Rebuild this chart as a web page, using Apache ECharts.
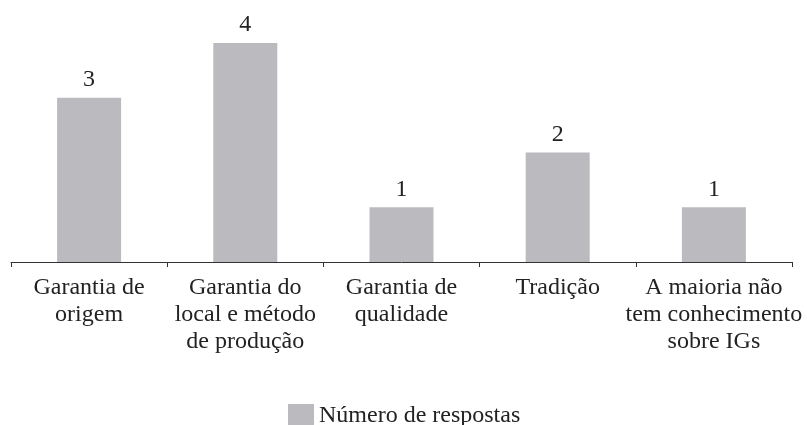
<!DOCTYPE html>
<html>
<head>
<meta charset="utf-8">
<script src="https://cdn.jsdelivr.net/npm/echarts@6/dist/echarts.min.js"></script>
<style>
  html, body { margin: 0; padding: 0; background: #fff; }
  #chart { width: 807px; height: 425px; }
</style>
</head>
<body>
<div id="chart"></div>
<script>
const categories = [
  'Garantia de\norigem',
  'Garantia do\nlocal e método\nde produção',
  'Garantia de\nqualidade',
  'Tradição',
  'A maioria não\ntem conhecimento\nsobre IGs'
];
const respostas = [3, 4, 1, 2, 1];
const seriesName = 'Número de respostas';

const font = 'Liberation Serif';
const chart = echarts.init(document.getElementById('chart'));

chart.setOption({
  animation: false,
  textStyle: { fontFamily: font },
  grid: { left: 11, right: 15, top: 43, bottom: 163 },
  legend: {
    data: [seriesName],
    top: 399,
    left: 283,
    itemWidth: 26,
    itemHeight: 24,
    itemGap: 9,
    icon: 'rect',
    textStyle: { fontFamily: font, fontSize: 24, color: '#222' }
  },
  xAxis: {
    type: 'category',
    data: categories,
    axisLine: { lineStyle: { color: '#333', width: 1 } },
    axisTick: { show: true, length: 5, lineStyle: { color: '#333' } },
    axisLabel: {
      interval: 0,
      margin: 12,
      fontFamily: font,
      fontSize: 24,
      lineHeight: 27,
      color: '#222'
    }
  },
  yAxis: {
    type: 'value',
    min: 0,
    max: 4,
    show: false
  },
  series: [{
    name: seriesName,
    type: 'bar',
    data: respostas,
    barWidth: 64,
    itemStyle: { color: '#bbbbbf' },
    label: {
      show: true,
      position: 'top',
      distance: 6,
      fontFamily: font,
      fontSize: 24,
      color: '#222'
    }
  }]
});
</script>
</body>
</html>
